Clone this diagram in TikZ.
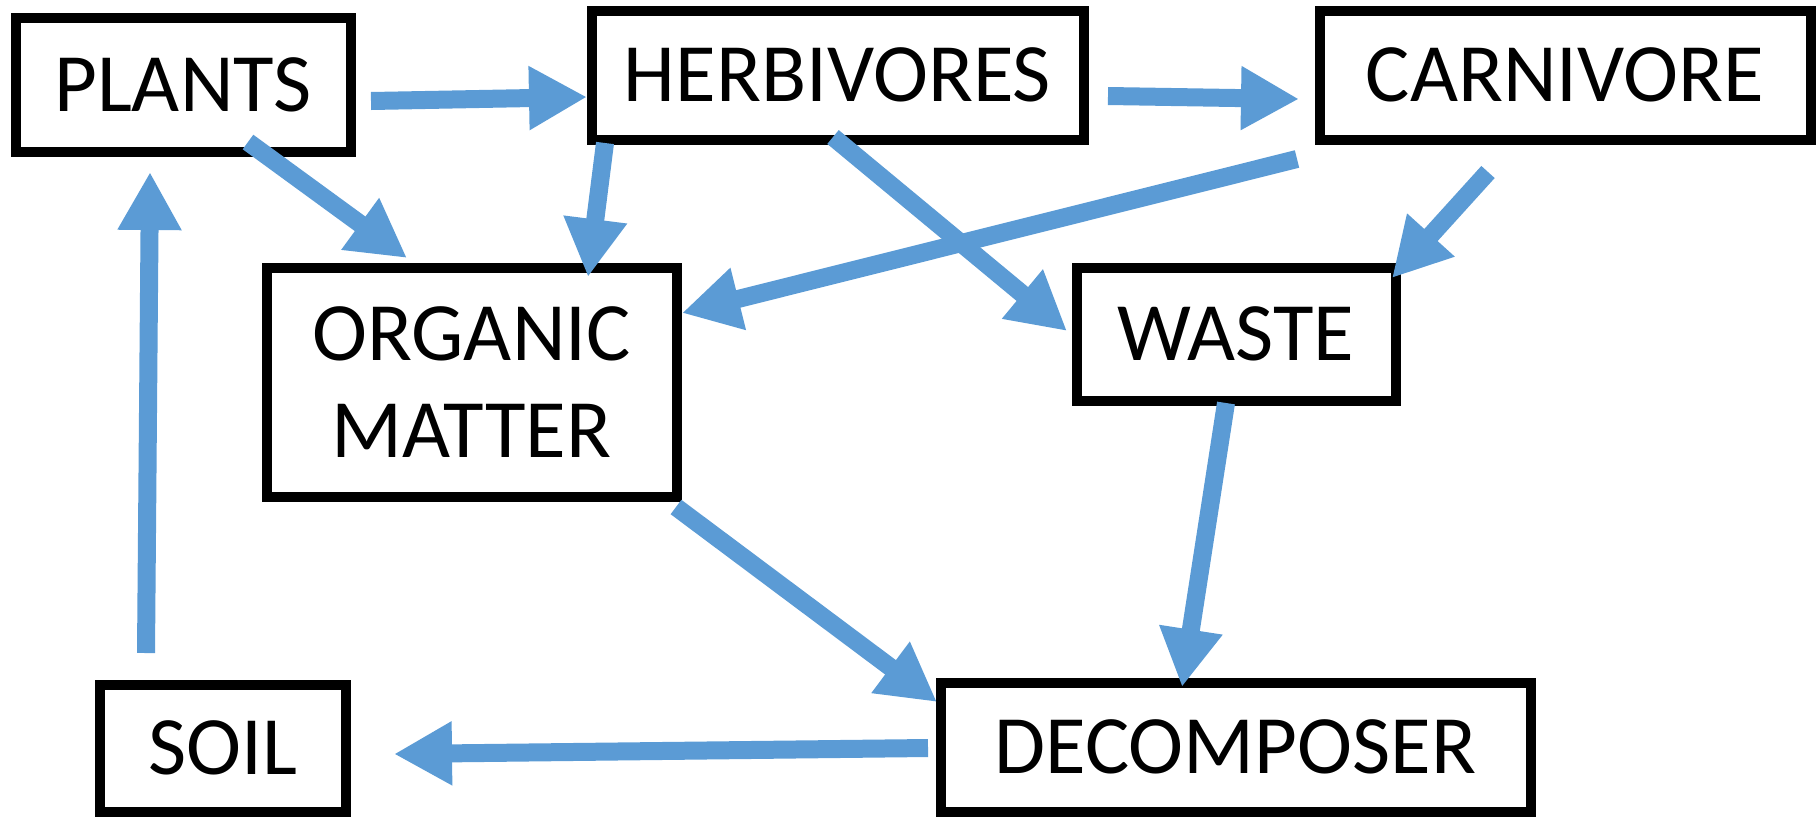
\documentclass[tikz,border=0pt]{standalone}
\usepackage{fontspec}
\setmainfont{Carlito}
\usetikzlibrary{arrows.meta,calc}
\definecolor{arrowblue}{RGB}{91,155,213}
\begin{document}
\begin{tikzpicture}[x=1pt,y=-1pt,
  box/.style={draw=black,line width=10pt,fill=white,inner sep=0pt,align=center,
    font=\fontsize{83}{97}\selectfont},
  flow/.style={draw=arrowblue,line width=18pt,
    -{Triangle[length=58pt,width=60pt]}}]
\useasboundingbox (0,0) rectangle (1819,820);
\node[box,minimum width=335pt,minimum height=134pt] (plants) at (183,84.5) {PLANTS};
\node[box,minimum width=492pt,minimum height=129pt] (herb) at (837.5,75) {HERBIVORES};
\node[box,minimum width=491pt,minimum height=129pt] (carn) at (1565,75) {CARNIVORE};
\node[box,minimum width=410pt,minimum height=229pt] (org) at (471.5,382) {ORGANIC\\MATTER};
\node[box,minimum width=319pt,minimum height=133pt] (waste) at (1236,334) {WASTE};
\node[box,minimum width=246pt,minimum height=127pt] (soil) at (222.5,748) {SOIL};
\node[box,minimum width=590pt,minimum height=129pt] (dec) at (1235.5,747) {DECOMPOSER};

\draw[flow] ($(plants.center)+(188,16.5)$) -- ($(herb.center)+(-250.5,22)$);
\draw[flow] ($(herb.center)+(270.5,21)$) -- ($(carn.center)+(-266,24)$);
\draw[flow] ($(plants.center)+(65,57.5)$) -- ($(org.center)+(-64.5,-124)$);
\draw[flow] ($(herb.center)+(-232.5,68)$) -- ($(org.center)+(116.5,-105)$);
\draw[flow] ($(carn.center)+(-268,84)$) -- ($(org.center)+(210.5,-69)$);
\draw[flow] ($(herb.center)+(-4.5,62)$) -- ($(waste.center)+(-169,-3)$);
\draw[flow] ($(carn.center)+(-77,97)$) -- ($(waste.center)+(156,-56)$);
\draw[flow] ($(org.center)+(204.5,125)$) -- ($(dec.center)+(-298.5,-45)$);
\draw[flow] ($(waste.center)+(-10,69)$) -- ($(dec.center)+(-53.5,-60)$);
\draw[flow] ($(dec.center)+(-307.5,1)$) -- ($(soil.center)+(171.5,6)$);
\draw[flow] ($(soil.center)+(-76.5,-95)$) -- ($(plants.center)+(-33,87.5)$);
\end{tikzpicture}
\end{document}
